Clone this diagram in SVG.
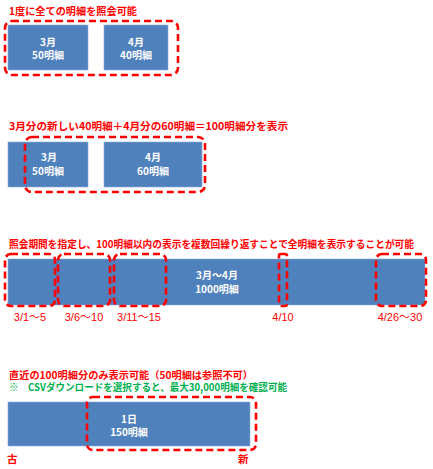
<svg xmlns="http://www.w3.org/2000/svg" width="433" height="469" viewBox="0 0 433 469">
<style>
.bg{fill:#fff}
.box{fill:#4F81BD;stroke:#8EAADB;stroke-width:0.6}
.dash{fill:none;stroke:#FF0000;stroke-width:2.6;stroke-dasharray:7 4}
.t{font-family:"Noto Sans CJK JP","Noto Sans",sans-serif;font-weight:bold;font-size:10.5px}
.s{font-size:10px}
.red{fill:#FF0000}
.grn{fill:#00B050}
.w{fill:#fff;text-anchor:middle;font-size:10px}
.lbl{font-family:"Liberation Sans","Noto Sans CJK JP",sans-serif;font-size:11px;fill:#FF0000;text-anchor:middle}
</style>
<rect class="bg" width="433" height="469"/>
<g id="section1">
<text class="t red" x="9" y="15" textLength="128" lengthAdjust="spacingAndGlyphs">1度に全ての明細を照会可能</text>
<g id="s1-mar"><rect class="box" x="8" y="25" width="80" height="45"/><text class="t w" x="48" y="46">3月</text><text class="t w" x="48" y="59">50明細</text></g>
<g id="s1-apr"><rect class="box" x="104" y="25" width="64" height="45"/><text class="t w" x="136" y="46">4月</text><text class="t w" x="136" y="59">40明細</text></g>
</g>
<g id="section2">
<text class="t red" x="9" y="130" textLength="279" lengthAdjust="spacingAndGlyphs">3月分の新しい40明細＋4月分の60明細＝100明細分を表示</text>
<g id="s2-mar"><rect class="box" x="8" y="142" width="80" height="45"/><text class="t w" x="49" y="161">3月</text><text class="t w" x="48" y="175">50明細</text></g>
<g id="s2-apr"><rect class="box" x="104" y="142" width="98" height="45"/><text class="t w" x="153" y="161">4月</text><text class="t w" x="153" y="175">60明細</text></g>
</g>
<g id="section3">
<text class="t red" x="9" y="248" textLength="405" lengthAdjust="spacingAndGlyphs">照会期間を指定し、100明細以内の表示を複数回繰り返すことで全明細を表示することが可能</text>
<g id="s3-bar"><rect class="box" x="8" y="259" width="417" height="46"/><text class="t w" x="217" y="279">3月～4月</text><text class="t w" x="217" y="293">1000明細</text></g>
<g id="s3-labels">
<text class="lbl" x="30" y="321">3/1～5</text>
<text class="lbl" x="84" y="321">3/6～10</text>
<text class="lbl" x="139" y="321">3/11～15</text>
<text class="lbl" x="283" y="321">4/10</text>
<text class="lbl" x="400" y="321">4/26～30</text>
</g>
</g>
<g id="section4">
<text class="t s red" x="9" y="379" textLength="244" lengthAdjust="spacingAndGlyphs">直近の100明細分のみ表示可能（50明細は参照不可）</text>
<text class="t s grn" x="9" y="391" textLength="278" lengthAdjust="spacingAndGlyphs">※　CSVダウンロードを選択すると、最大30,000明細を確認可能</text>
<g id="s4-bar"><rect class="box" x="8" y="402" width="242" height="44"/><text class="t w" x="129" y="423">1日</text><text class="t w" x="129" y="436">150明細</text></g>
<text class="t red" x="7" y="463">古</text>
<text class="t red" x="238" y="463">新</text>
</g>
<g id="connectors">
<rect class="dash" x="5" y="21" width="173" height="54" rx="7"/>
<rect class="dash" x="25" y="137" width="180" height="55" rx="7"/>
<rect class="dash" x="5" y="254" width="50" height="52" rx="6"/>
<rect class="dash" x="58" y="254" width="52" height="52" rx="6"/>
<rect class="dash" x="114" y="254" width="52" height="52" rx="6"/>
<rect class="dash" x="279" y="254" width="8" height="52" rx="2"/>
<rect class="dash" x="376" y="254" width="50" height="52" rx="6"/>
<rect class="dash" x="87" y="397" width="169" height="53" rx="6"/>
</g>
</svg>
